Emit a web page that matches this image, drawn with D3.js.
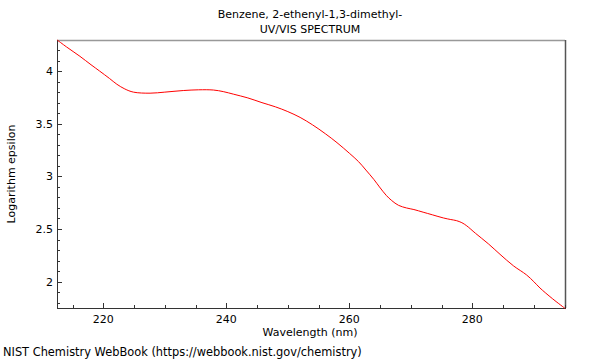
<!DOCTYPE html>
<html>
<head>
<meta charset="utf-8">
<script src="https://cdn.jsdelivr.net/npm/d3@7"></script>
<style>
  body { margin: 0; background: #fff; }
  text { font-family: "DejaVu Sans", sans-serif; fill: #000; }
</style>
</head>
<body>
<svg id="chart" width="600" height="360"></svg>
<script>
// spectrum
var wavelength = [212.5, 214.0, 216.2, 218.0, 219.4, 221.0, 222.2, 223.5, 224.9, 227.6, 230.0, 233.0, 235.5, 237.9, 239.5, 241.2, 243.5, 245.8, 248.0, 250.0, 252.0, 254.0, 256.1, 258.0, 260.0, 261.5, 262.7, 264.0, 264.9, 266.0, 266.9, 268.0, 269.3, 270.5, 272.0, 273.5, 275.3, 276.5, 277.4, 278.3, 279.1, 280.5, 282.6, 284.5, 286.7, 288.8, 290.0, 291.0, 293.0, 295.1];
var logEps = [4.295, 4.23, 4.14, 4.06, 4.0, 3.93, 3.875, 3.83, 3.80, 3.79, 3.80, 3.815, 3.822, 3.82, 3.805, 3.78, 3.745, 3.70, 3.66, 3.615, 3.56, 3.49, 3.405, 3.32, 3.22, 3.14, 3.06, 2.97, 2.90, 2.82, 2.77, 2.725, 2.70, 2.685, 2.66, 2.635, 2.605, 2.59, 2.58, 2.56, 2.53, 2.46, 2.36, 2.26, 2.15, 2.065, 2.0, 1.94, 1.84, 1.745];
var xTicks = [220, 240, 260, 280];
var yTicks = [2, 2.5, 3, 3.5, 4];
var titleLines = ["Benzene, 2-ethenyl-1,3-dimethyl-", "UV/VIS SPECTRUM"];

var svg = d3.select("#chart");
var pLeft = 57, pRight = 565, pTop = 40, pBottom = 308;
var fs = 11;

var x = d3.scaleLinear().domain([212.47, 295.07]).range([pLeft, pRight]);
var y = d3.scaleLinear().domain([1.75, 4.295]).range([pBottom, pTop]);

// frame
svg.append("line").attr("x1", pLeft).attr("x2", pRight).attr("y1", pTop + 0.5).attr("y2", pTop + 0.5)
    .attr("stroke", "#999").attr("stroke-width", 1.5);
svg.append("line").attr("x1", pRight + 0.5).attr("x2", pRight + 0.5).attr("y1", pTop).attr("y2", pBottom)
    .attr("stroke", "#555").attr("stroke-width", 1.5);

// ticks, inside the frame
var gx = svg.append("g");
d3.range(215, 295.1, 5).forEach(function (v) {
    var major = v % 20 === 0;
    gx.append("line").attr("x1", Math.round(x(v)) + 0.5).attr("x2", Math.round(x(v)) + 0.5)
        .attr("y1", pBottom).attr("y2", pBottom - (major ? 5 : 3))
        .attr("stroke", "#333");
});
var gy = svg.append("g");
d3.range(18, 43, 1).forEach(function (k) {
    var v = k / 10;
    var major = k % 5 === 0;
    gy.append("line").attr("x1", pLeft).attr("x2", pLeft + (major ? 5 : 3))
        .attr("y1", Math.round(y(v)) + 0.5).attr("y2", Math.round(y(v)) + 0.5)
        .attr("stroke", "#333");
});

// axes lines
svg.append("line").attr("x1", pLeft).attr("x2", pRight + 1).attr("y1", pBottom + 0.5).attr("y2", pBottom + 0.5)
    .attr("stroke", "#333");
svg.append("line").attr("x1", pLeft + 0.5).attr("x2", pLeft + 0.5).attr("y1", pTop).attr("y2", pBottom)
    .attr("stroke", "#333");

// tick labels
svg.selectAll("text.xt").data(xTicks).enter().append("text")
    .attr("x", function (d) { return x(d); }).attr("y", pBottom + 15)
    .attr("text-anchor", "middle").attr("font-size", fs)
    .text(function (d) { return d; });
svg.selectAll("text.yt").data(yTicks).enter().append("text")
    .attr("x", pLeft - 4).attr("y", function (d) { return y(d) + 4; })
    .attr("text-anchor", "end").attr("font-size", fs)
    .text(function (d) { return d; });

// spectrum
var pts = wavelength.map(function (w, i) { return [w, logEps[i]]; });
svg.append("path").datum(pts)
    .attr("fill", "none").attr("stroke", "#ff0000").attr("stroke-width", 1)
    .attr("d", d3.line().x(function (d) { return x(d[0]); }).y(function (d) { return y(d[1]); })
        .curve(d3.curveCatmullRom));

// titles
titleLines.forEach(function (t, i) {
    svg.append("text").attr("x", 310).attr("y", 18 + i * 15)
        .attr("text-anchor", "middle").attr("font-size", fs).text(t);
});
svg.append("text").attr("x", 310).attr("y", 336)
    .attr("text-anchor", "middle").attr("font-size", fs).text("Wavelength (nm)");
svg.append("text").attr("transform", "translate(15,174)rotate(-90)")
    .attr("text-anchor", "middle").attr("font-size", fs).text("Logarithm epsilon");
svg.append("text").attr("x", 3).attr("y", 356)
    .attr("font-size", 11.4).text("NIST Chemistry WebBook (https://webbook.nist.gov/chemistry)");
</script>
</body>
</html>
